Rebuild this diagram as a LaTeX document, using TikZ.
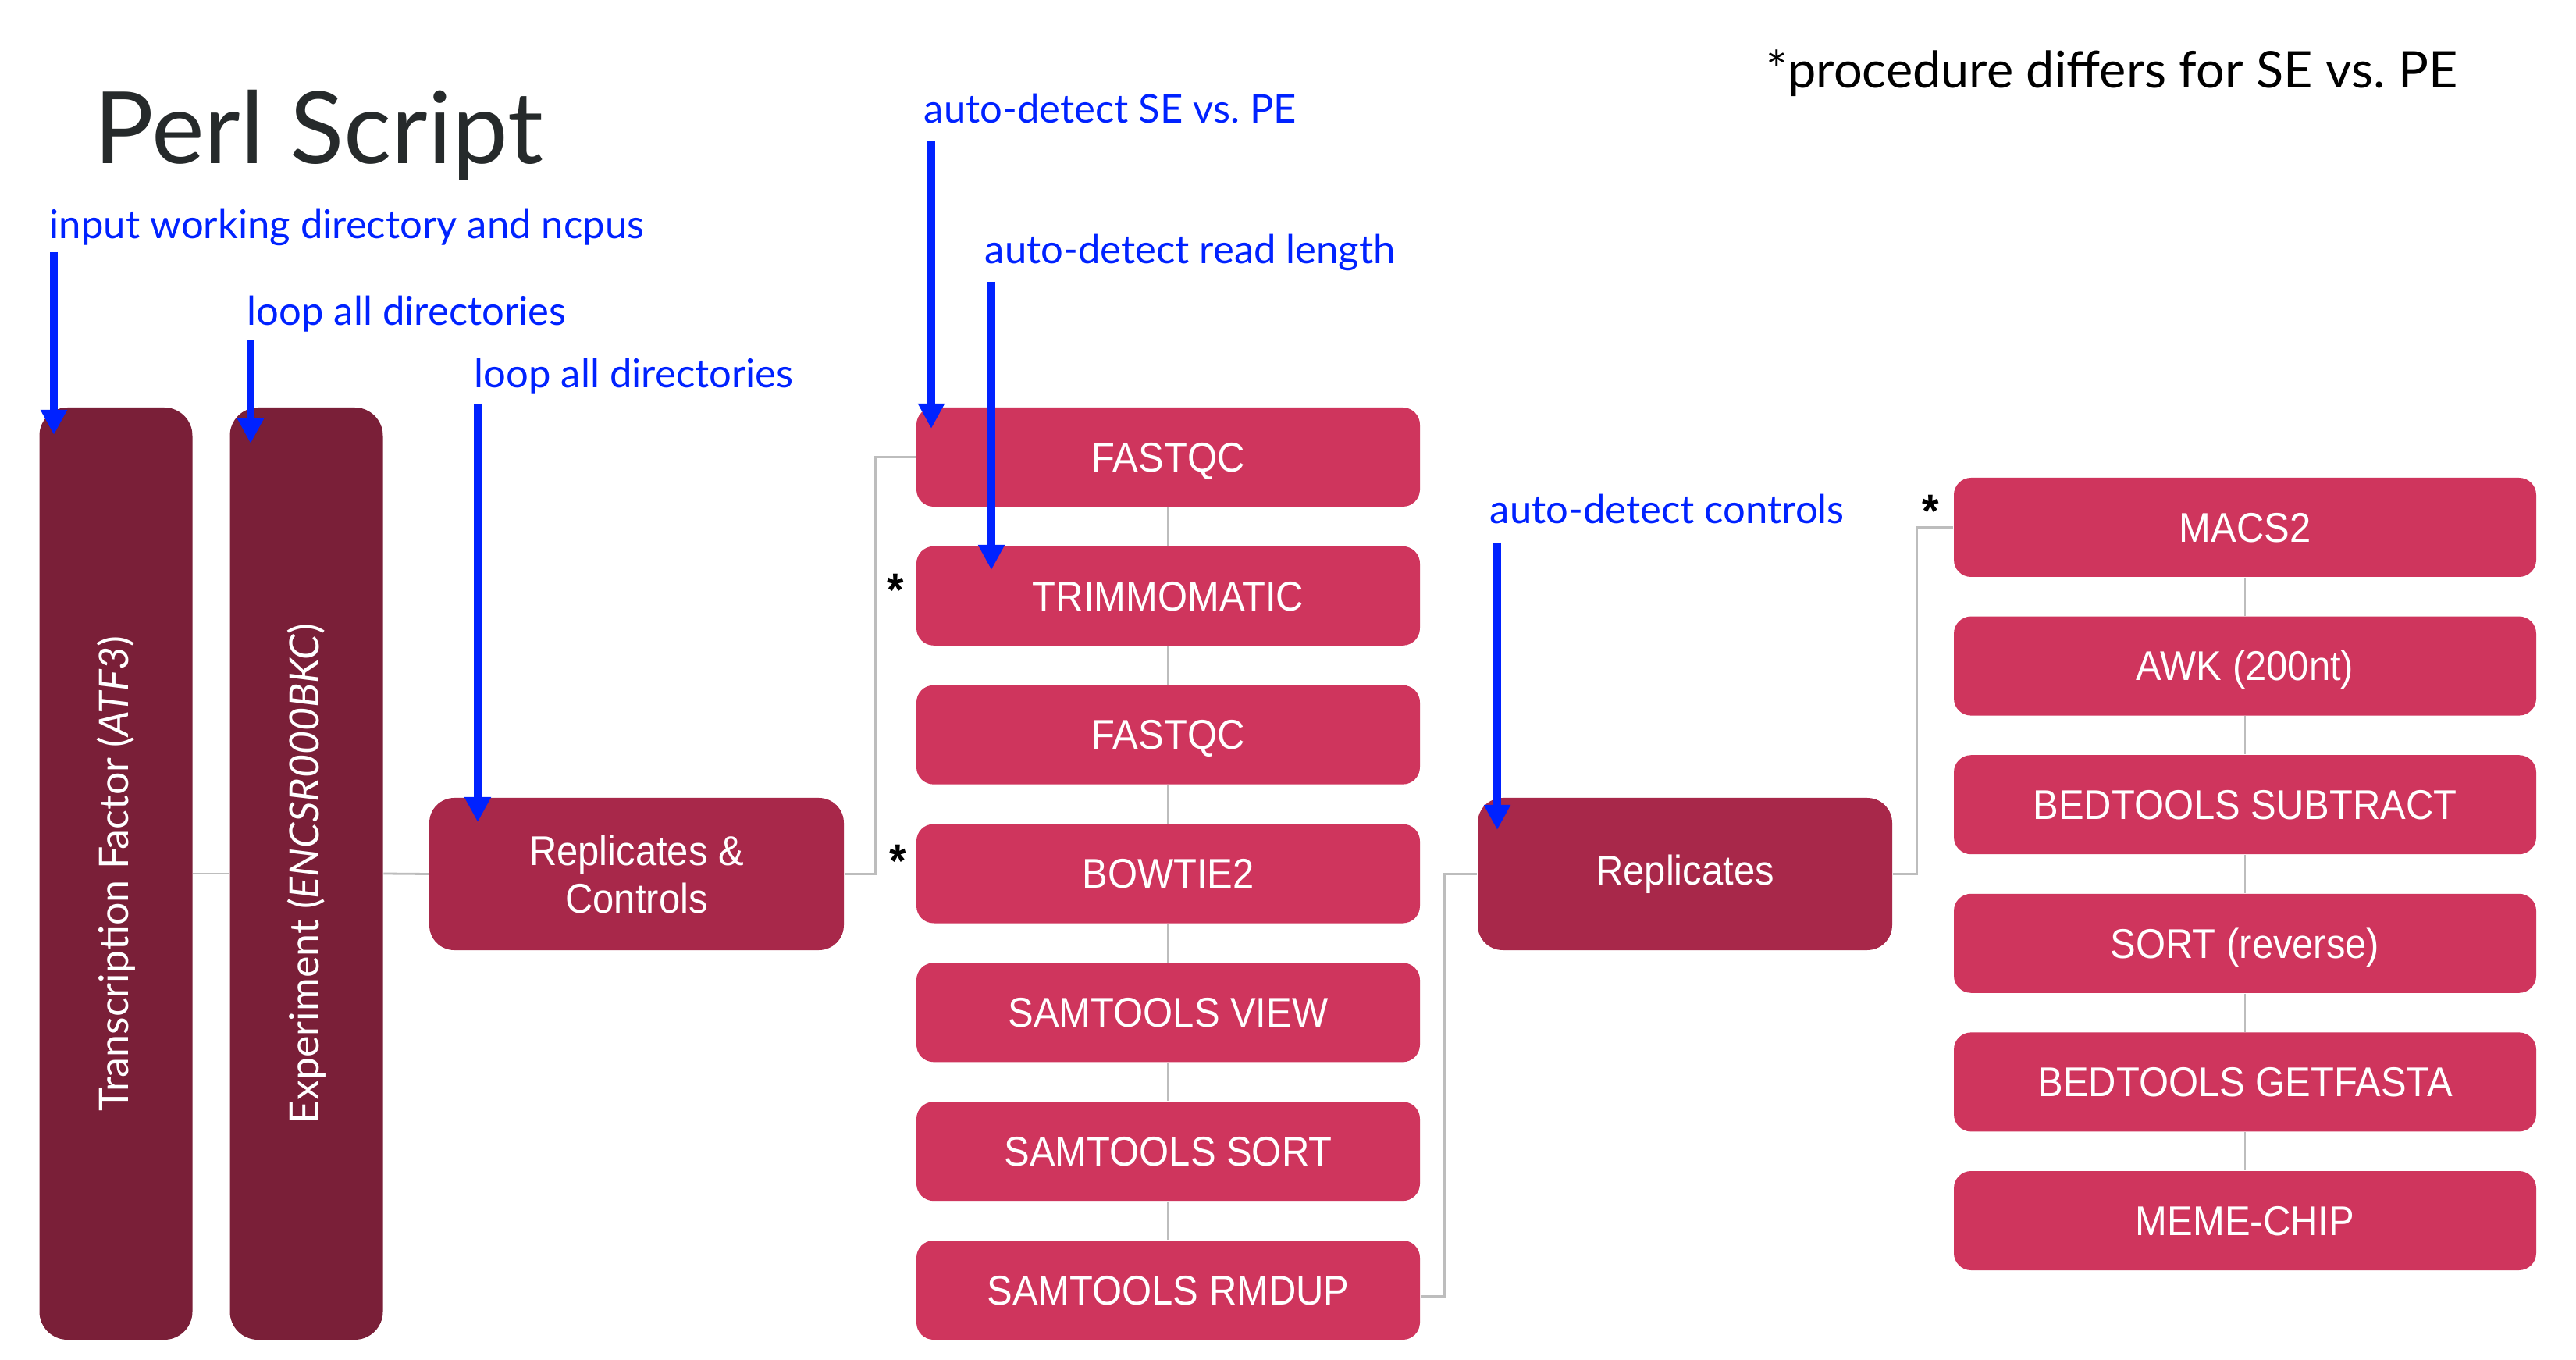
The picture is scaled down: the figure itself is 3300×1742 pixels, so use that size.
\documentclass[tikz,border=0pt]{standalone}
\usepackage{fontspec}
\setmainfont{Lato}
\newfontfamily\boxfont[FakeStretch=0.92]{Liberation Sans}
\usetikzlibrary{arrows.meta}
\definecolor{tallc}{HTML}{7A1F38}
\definecolor{repc}{HTML}{A8284A}
\definecolor{stepc}{HTML}{CF355D}
\definecolor{arrc}{HTML}{0022FF}
\definecolor{linec}{HTML}{BDBDBD}
\definecolor{titlec}{HTML}{262A2B}
\begin{document}
\begin{tikzpicture}[x=0.25pt,y=-0.25pt,
  tallbox/.style={fill=tallc, rounded corners=9pt, minimum width=49pt, minimum height=298.5pt, inner sep=0pt, text=white, font=\fontsize{13}{15}\selectfont},
  repbox/.style={fill=repc, rounded corners=8pt, minimum width=132.75pt, minimum height=48.75pt, inner sep=0pt, text=white, align=center, font=\boxfont\fontsize{13.3}{15.25}\selectfont},
  toolbox/.style={fill=stepc, rounded corners=5.5pt, minimum height=31.75pt, inner sep=0pt, text=white, text height=9.4pt, text depth=0pt, font=\boxfont\fontsize{13.3}{15}\selectfont},
  midbox/.style={toolbox, minimum width=161.25pt},
  rightbox/.style={toolbox, minimum width=186.5pt},
  link/.style={draw=linec, line width=0.7pt},
  bluearrow/.style={draw=arrc, line width=2.5pt, -{Triangle[width=8pt,length=8pt]}},
  anno/.style={text=arrc, anchor=base west, inner sep=0pt, font=\fontsize{12.7}{15}\selectfont},
  star/.style={anchor=north, inner sep=0pt, font=\boxfont\bfseries\fontsize{15}{17}\selectfont}
]
\fill[white] (0,0) rectangle (3300,1742);
\useasboundingbox (0,0) rectangle (3300,1742);

% titles
\node[anchor=base west, inner sep=0pt, text=titlec, font=\fontsize{32}{38}\selectfont] (title) at (120,210) {Perl Script};
\node[anchor=base west, inner sep=0pt, font=\fontsize{16.2}{19}\selectfont] (note) at (2262,113) {*procedure differs for SE vs.\ PE};

% tall boxes
\node[tallbox] (tf) at (148.5,1119) {\rotatebox{90}{Transcription Factor (\textit{ATF3})}};
\node[tallbox] (exp) at (392.5,1119) {\rotatebox{90}{Experiment (\textit{ENCSR000BKC})}};

% replicates boxes
\node[repbox] (rc) at (815.5,1119.5) {Replicates \&\\Controls};
\node[repbox] (rep) at (2158.5,1119.5) {Replicates};

% middle column
\node[midbox] (f1) at (1496.5,585.5) {FASTQC};
\node[midbox] (tr) at (1496.5,763.3) {TRIMMOMATIC};
\node[midbox] (f2) at (1496.5,941.2) {FASTQC};
\node[midbox] (bt) at (1496.5,1119) {BOWTIE2};
\node[midbox] (sv) at (1496.5,1296.8) {SAMTOOLS VIEW};
\node[midbox] (ss) at (1496.5,1474.7) {SAMTOOLS SORT};
\node[midbox] (sr) at (1496.5,1652.5) {SAMTOOLS RMDUP};

% right column
\node[rightbox] (mc) at (2876,675.5) {MACS2};
\node[rightbox] (awk) at (2876,853.1) {AWK (200nt)};
\node[rightbox] (bs) at (2876,1030.7) {BEDTOOLS SUBTRACT};
\node[rightbox] (so) at (2876,1208.3) {SORT (reverse)};
\node[rightbox] (bg) at (2876,1385.9) {BEDTOOLS GETFASTA};
\node[rightbox] (mm) at (2876,1563.5) {MEME-CHIP};

% asterisks
\node[star] (s1) at (1147,734) {*};
\node[star] (s2) at (1150,1081) {*};
\node[star] (s3) at (2473,633) {*};

% gray connectors
\draw[link] (tf.east) -- (exp.west);
\draw[link] (exp.east) -- (rc.west);
\draw[link] (rc.east) -- ++(40,0) |- (f1.west);
\draw[link] (f1.south) -- (tr.north);
\draw[link] (tr.south) -- (f2.north);
\draw[link] (f2.south) -- (bt.north);
\draw[link] (bt.south) -- (sv.north);
\draw[link] (sv.south) -- (ss.north);
\draw[link] (ss.south) -- (sr.north);
\draw[link] ([yshift=-2pt]sr.east) -- ++(31,0) |- (rep.west);
\draw[link] (rep.east) -- ++(31,0) |- (mc.west);
\draw[link] (mc.south) -- (awk.north);
\draw[link] (awk.south) -- (bs.north);
\draw[link] (bs.south) -- (so.north);
\draw[link] (so.south) -- (bg.north);
\draw[link] (bg.south) -- (mm.north);

% annotations
\node[anno] (l1) at (63,306) {input working directory and ncpus};
\node[anno] (l2) at (316,417) {loop all directories};
\node[anno] (l3) at (607,497) {loop all directories};
\node[anno] (l4) at (1183,158) {auto-detect SE vs.\ PE};
\node[anno] (l5) at (1261,338) {auto-detect read length};
\node[anno] (l6) at (1908,671) {auto-detect controls};

\coordinate (a1s) at (69,323);   \coordinate (a1e) at (69,557);
\coordinate (a2s) at (321,435);  \coordinate (a2e) at (321,568);
\coordinate (a3s) at (612,517);  \coordinate (a3e) at (612,1053);
\coordinate (a4s) at (1193,181); \coordinate (a4e) at (1193,549);
\coordinate (a5s) at (1270,361); \coordinate (a5e) at (1270,730);
\coordinate (a6s) at (1918,695); \coordinate (a6e) at (1918,1063);
\draw[bluearrow] (a1s) -- (a1e);
\draw[bluearrow] (a2s) -- (a2e);
\draw[bluearrow] (a3s) -- (a3e);
\draw[bluearrow] (a4s) -- (a4e);
\draw[bluearrow] (a5s) -- (a5e);
\draw[bluearrow] (a6s) -- (a6e);
\end{tikzpicture}
\end{document}
